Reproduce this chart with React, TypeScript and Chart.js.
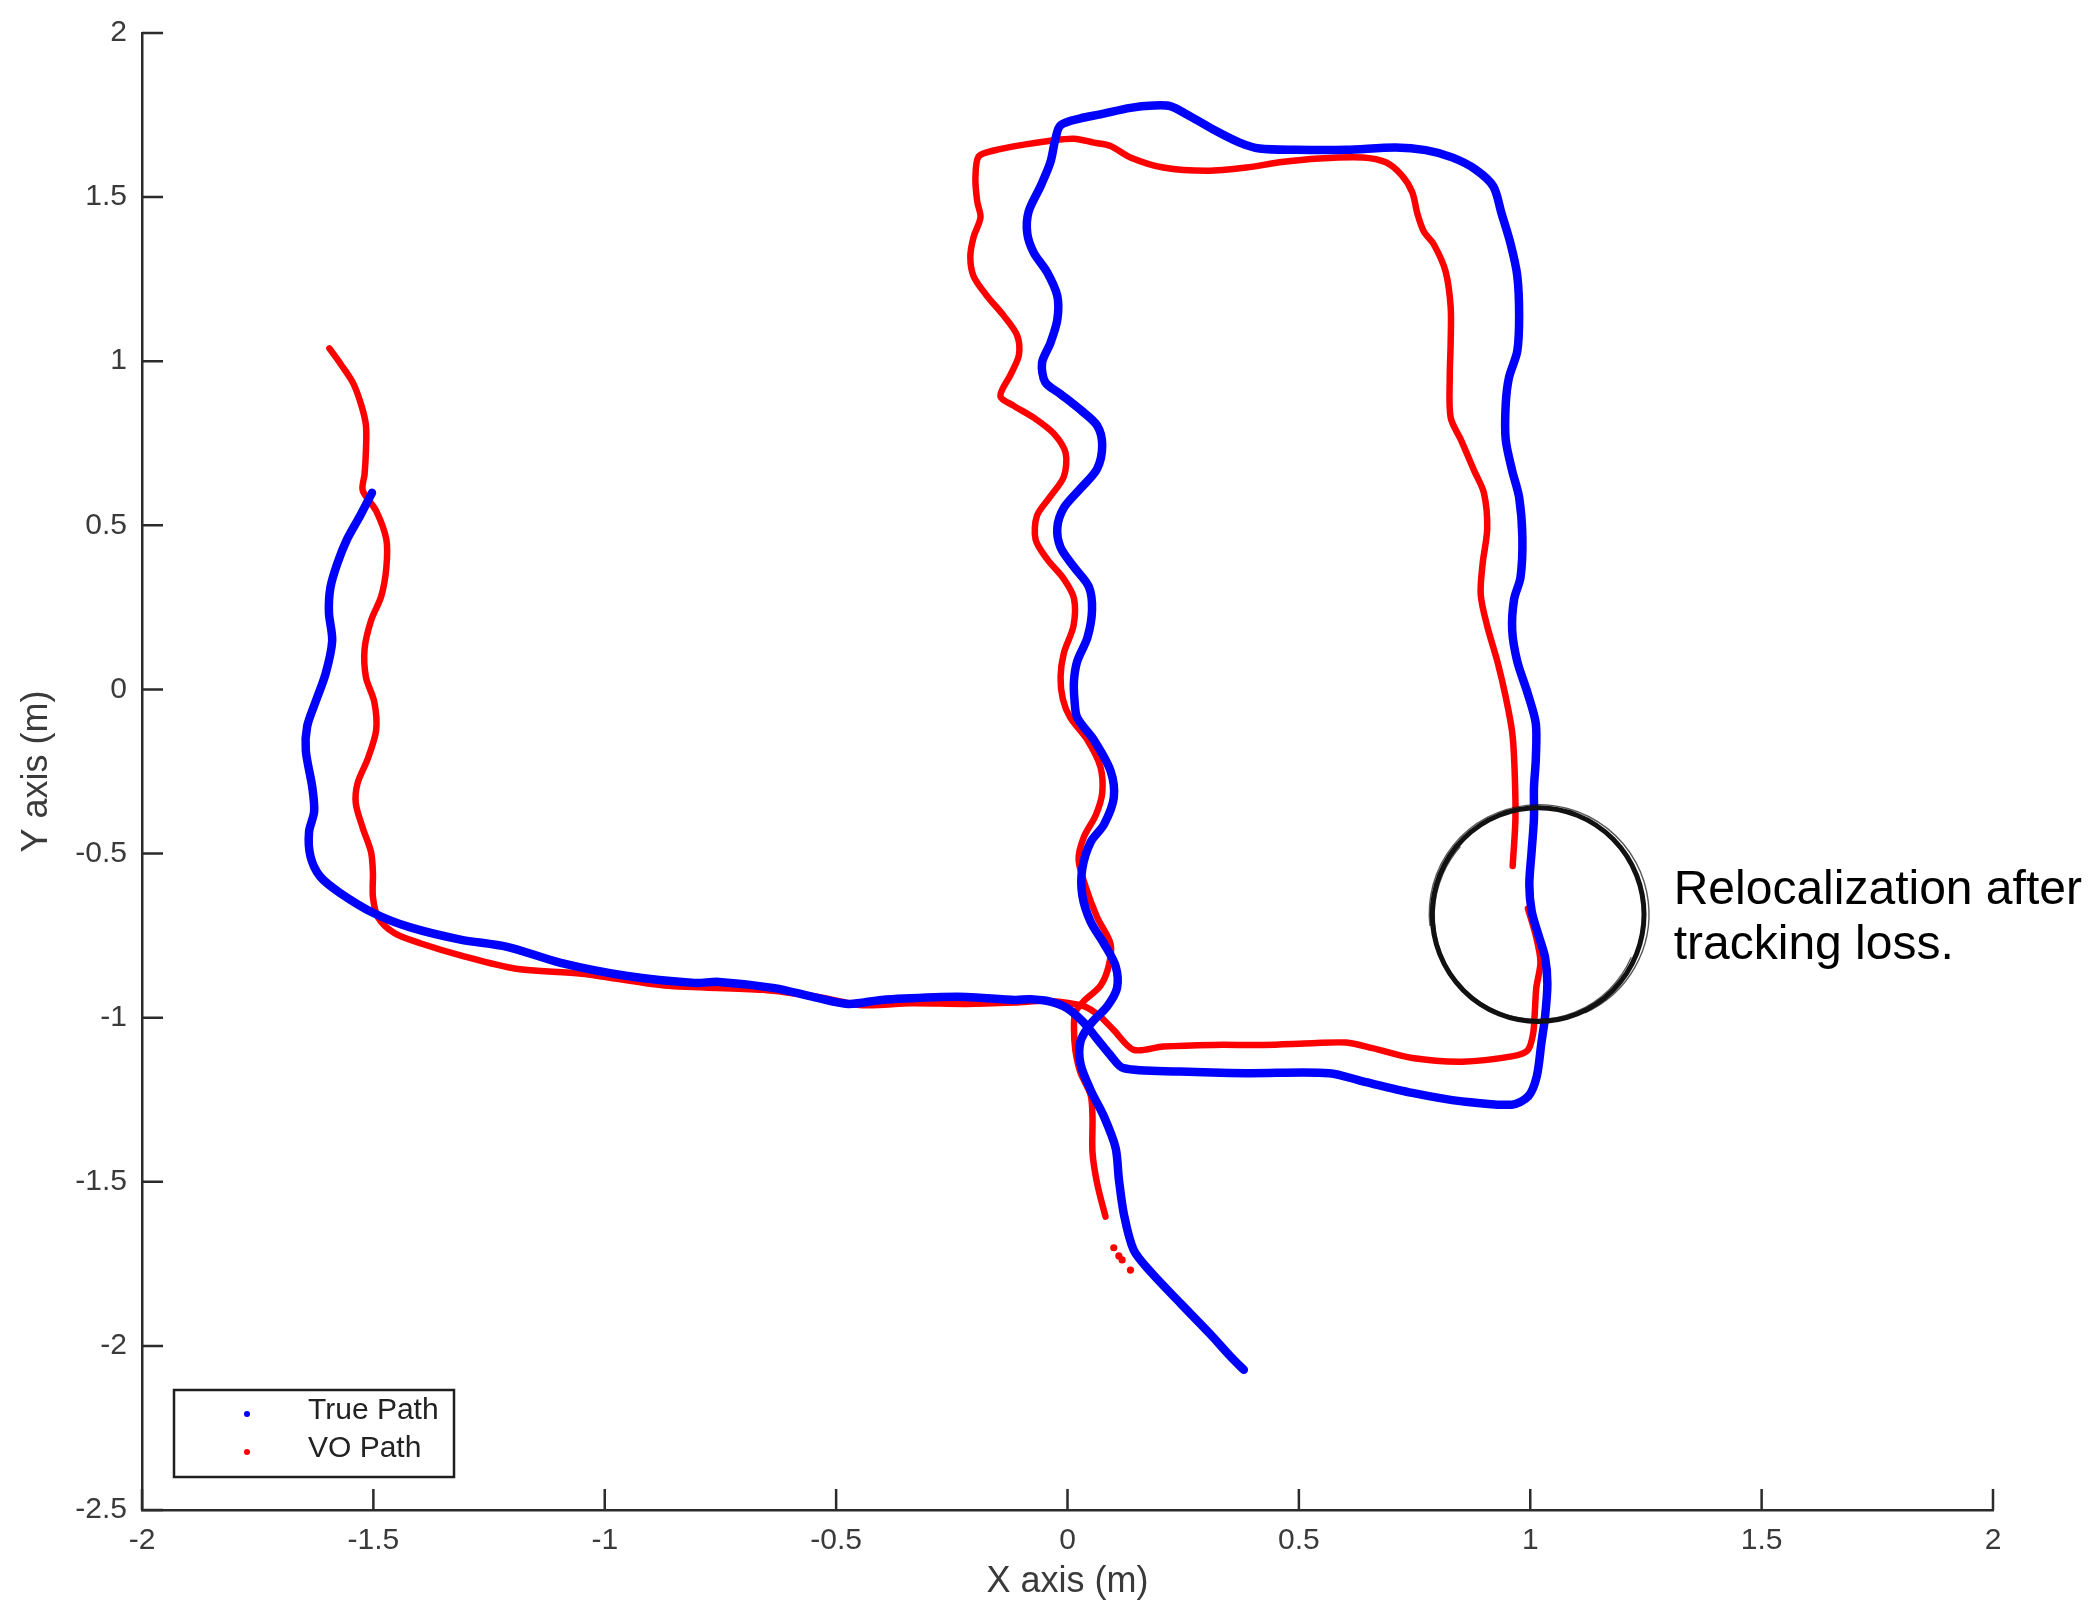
import React, { useEffect, useRef } from "react";
import { Chart, registerables } from "chart.js";

Chart.register(...registerables);

// ---------- data ----------
const X_TICKS = [-2, -1.5, -1, -0.5, 0, 0.5, 1, 1.5, 2];
const Y_TICKS = [-2.5, -2, -1.5, -1, -0.5, 0, 0.5, 1, 1.5, 2];
const X_LABEL = "X axis (m)";
const Y_LABEL = "Y axis (m)";
const SERIES_NAMES = ["True Path", "VO Path"];
const ANNOTATION_LINES = ["Relocalization after", "tracking loss."];

// True path (ground truth), from the end of the tail up through the loop and out to the left
const TRUE_PATH: [number, number][] = [
  [0.381, -2.073], [0.352, -2.032], [0.309, -1.965], [0.244, -1.87], [0.18, -1.775],
  [0.143, -1.708], [0.122, -1.6], [0.111, -1.492], [0.104, -1.397], [0.079, -1.302],
  [0.05, -1.221], [0.028, -1.14], [0.028, -1.073], [0.05, -1.019], [0.086, -0.965],
  [0.107, -0.91], [0.104, -0.843], [0.079, -0.775], [0.05, -0.708], [0.032, -0.627],
  [0.032, -0.546], [0.05, -0.465], [0.079, -0.411], [0.1, -0.33], [0.093, -0.248],
  [0.057, -0.154], [0.021, -0.086], [0.015, -0.03], [0.014, 0.026], [0.021, 0.086],
  [0.043, 0.158], [0.053, 0.242], [0.046, 0.313], [0.014, 0.373], [-0.015, 0.433],
  [-0.022, 0.493], [-0.008, 0.553], [0.028, 0.612], [0.064, 0.672], [0.075, 0.744],
  [0.064, 0.804], [0.028, 0.852], [-0.015, 0.9], [-0.048, 0.936], [-0.055, 0.995],
  [-0.037, 1.055], [-0.022, 1.127], [-0.022, 1.199], [-0.044, 1.271], [-0.073, 1.331],
  [-0.087, 1.39], [-0.084, 1.456], [-0.058, 1.534], [-0.037, 1.606], [-0.026, 1.678],
  [-0.015, 1.719], [0.028, 1.74], [0.071, 1.752], [0.136, 1.772], [0.186, 1.779],
  [0.222, 1.777], [0.258, 1.752], [0.315, 1.706], [0.372, 1.666], [0.415, 1.648],
  [0.494, 1.644], [0.602, 1.644], [0.709, 1.651], [0.774, 1.643], [0.831, 1.621],
  [0.881, 1.585], [0.92, 1.533], [0.938, 1.45], [0.958, 1.355], [0.972, 1.26],
  [0.976, 1.139], [0.972, 1.031], [0.954, 0.95], [0.947, 0.869], [0.947, 0.761],
  [0.961, 0.666], [0.976, 0.585], [0.983, 0.463], [0.979, 0.342], [0.965, 0.274],
  [0.961, 0.18], [0.972, 0.085], [0.994, -0.01], [1.012, -0.104], [1.012, -0.212],
  [1.008, -0.3], [1.008, -0.392], [1.003, -0.493], [0.998, -0.594], [1.003, -0.675],
  [1.017, -0.745], [1.032, -0.816], [1.037, -0.897], [1.032, -0.997], [1.024, -1.078],
  [1.014, -1.179], [0.996, -1.239], [0.96, -1.265], [0.853, -1.255], [0.745, -1.229],
  [0.638, -1.194], [0.566, -1.169], [0.387, -1.169], [0.243, -1.164], [0.121, -1.154],
  [0.093, -1.115], [0.064, -1.065], [0.035, -1.015], [-0.001, -0.971], [-0.037, -0.951],
  [-0.08, -0.944], [-0.113, -0.946], [-0.219, -0.937], [-0.286, -0.938], [-0.402, -0.946],
  [-0.474, -0.958], [-0.546, -0.938], [-0.633, -0.91], [-0.753, -0.891], [-0.806, -0.894],
  [-0.951, -0.873], [-1.095, -0.833], [-1.211, -0.784], [-1.312, -0.762], [-1.42, -0.725],
  [-1.5, -0.681], [-1.572, -0.62], [-1.615, -0.57], [-1.636, -0.508], [-1.639, -0.434],
  [-1.628, -0.372], [-1.632, -0.298], [-1.646, -0.186], [-1.643, -0.112], [-1.625, -0.038],
  [-1.603, 0.049], [-1.589, 0.148], [-1.596, 0.234], [-1.593, 0.309], [-1.578, 0.383],
  [-1.557, 0.457], [-1.528, 0.531], [-1.503, 0.599],
];

// VO path, part 1: from the tail up, round the loop, until tracking is lost
const VO_PATH_BEFORE_LOSS: [number, number][] = [
  [0.082, -1.606], [0.064, -1.505], [0.054, -1.41], [0.054, -1.302], [0.05, -1.235],
  [0.028, -1.167], [0.017, -1.099], [0.014, -1.032], [0.017, -0.984], [0.035, -0.95],
  [0.071, -0.903], [0.089, -0.843], [0.093, -0.775], [0.064, -0.694], [0.039, -0.6],
  [0.024, -0.519], [0.035, -0.451], [0.061, -0.383], [0.075, -0.316], [0.071, -0.235],
  [0.043, -0.154], [0.006, -0.086], [-0.01, -0.03], [-0.015, 0.038], [-0.008, 0.11],
  [0.013, 0.194], [0.014, 0.277], [-0.008, 0.337], [-0.044, 0.397], [-0.069, 0.457],
  [-0.066, 0.529], [-0.037, 0.588], [-0.008, 0.648], [-0.004, 0.72], [-0.03, 0.78],
  [-0.073, 0.828], [-0.116, 0.864], [-0.145, 0.894], [-0.123, 0.959], [-0.105, 1.019],
  [-0.109, 1.079], [-0.138, 1.139], [-0.174, 1.199], [-0.203, 1.259], [-0.21, 1.318],
  [-0.203, 1.378], [-0.188, 1.438], [-0.195, 1.486], [-0.199, 1.558], [-0.192, 1.624],
  [-0.159, 1.642], [-0.094, 1.66], [-0.037, 1.672], [0.014, 1.678], [0.057, 1.666],
  [0.093, 1.656], [0.136, 1.621], [0.207, 1.59], [0.301, 1.58], [0.387, 1.59],
  [0.458, 1.606], [0.544, 1.618], [0.638, 1.621], [0.688, 1.606], [0.722, 1.567],
  [0.745, 1.515], [0.756, 1.45], [0.77, 1.395], [0.792, 1.355], [0.817, 1.274],
  [0.828, 1.166], [0.828, 1.058], [0.826, 0.95], [0.828, 0.828], [0.85, 0.761],
  [0.879, 0.666], [0.9, 0.598], [0.907, 0.49], [0.897, 0.382], [0.893, 0.288],
  [0.907, 0.193], [0.929, 0.085], [0.947, -0.023], [0.961, -0.131], [0.966, -0.239],
  [0.968, -0.392], [0.962, -0.538],
];

// VO path, part 2: after relocalization, along the bottom and out to the left
const VO_PATH_AFTER_RELOC: [number, number][] = [
  [0.995, -0.668], [1.012, -0.75], [1.022, -0.83], [1.013, -0.91], [1.01, -0.98],
  [1.006, -1.05], [0.994, -1.1], [0.96, -1.118], [0.853, -1.134], [0.745, -1.123],
  [0.659, -1.093], [0.602, -1.076], [0.53, -1.078], [0.423, -1.083], [0.315, -1.083],
  [0.207, -1.088], [0.143, -1.098], [0.1, -1.038], [0.071, -0.997], [0.035, -0.965],
  [-0.041, -0.949], [-0.113, -0.954], [-0.219, -0.958], [-0.338, -0.956], [-0.444, -0.962],
  [-0.539, -0.937], [-0.658, -0.915], [-0.871, -0.902], [-1.049, -0.866], [-1.192, -0.851],
  [-1.31, -0.811], [-1.397, -0.774], [-1.454, -0.743], [-1.49, -0.694], [-1.501, -0.632],
  [-1.501, -0.558], [-1.505, -0.496], [-1.523, -0.422], [-1.538, -0.347], [-1.534, -0.285],
  [-1.512, -0.211], [-1.494, -0.124], [-1.498, -0.038], [-1.516, 0.037], [-1.519, 0.123],
  [-1.505, 0.21], [-1.483, 0.284], [-1.472, 0.371], [-1.472, 0.457], [-1.494, 0.544],
  [-1.523, 0.606], [-1.519, 0.656], [-1.516, 0.73], [-1.516, 0.804], [-1.526, 0.866],
  [-1.544, 0.934], [-1.57, 0.99], [-1.595, 1.039],
];

// isolated VO samples below the end of the VO tail
const VO_STRAY_POINTS: [number, number][] = [
  [0.1, -1.701], [0.111, -1.726], [0.118, -1.738], [0.136, -1.769],
];

// annotation anchor (data units)
const ANNOT_CENTER = { x: 1.017, y: -0.686 };
const ANNOT_RADIUS_X_UNITS = 0.231;
const ANNOT_TEXT_POS = { x: 1.31, y1: -0.654, y2: -0.821 };

// ---------- styles ----------
const W = 2096;
const H = 1605;
const BLUE = "#0000ff";
const RED = "#ff0000";
const AXIS_COLOR = "#2b2b2b";
const TEXT_COLOR = "#3a3a3a";
const FONT = "'Liberation Sans', Arial, Helvetica, sans-serif";

const toPts = (arr: [number, number][]) => arr.map(([x, y]) => ({ x, y }));

const inwardTicks = {
  id: "inwardTicks",
  afterDraw(chart: any) {
    const { ctx, chartArea, scales } = chart;
    const len = 21;
    ctx.save();
    ctx.strokeStyle = AXIS_COLOR;
    ctx.lineWidth = 2.5;
    ctx.beginPath();
    for (const t of scales.x.ticks) {
      const px = scales.x.getPixelForValue(t.value);
      ctx.moveTo(px, chartArea.bottom);
      ctx.lineTo(px, chartArea.bottom - len);
    }
    for (const t of scales.y.ticks) {
      const py = scales.y.getPixelForValue(t.value);
      ctx.moveTo(chartArea.left, py);
      ctx.lineTo(chartArea.left + len, py);
    }
    ctx.stroke();
    ctx.restore();
  },
};

const boxLegend = {
  id: "boxLegend",
  afterDraw(chart: any) {
    const { ctx, chartArea } = chart;
    const boxW = 280;
    const boxH = 87;
    const left = chartArea.left + 32;
    const top = chartArea.bottom - 33 - boxH;
    ctx.save();
    ctx.fillStyle = "#ffffff";
    ctx.fillRect(left, top, boxW, boxH);
    ctx.strokeStyle = "#1e1e1e";
    ctx.lineWidth = 2.5;
    ctx.strokeRect(left, top, boxW, boxH);
    ctx.font = `30px ${FONT}`;
    ctx.textBaseline = "middle";
    ctx.textAlign = "left";
    for (let i = 0; i < 2; i++) {
      const ds = chart.data.datasets[i];
      const cy = top + 21 + i * 38;
      ctx.fillStyle = ds.borderColor;
      ctx.beginPath();
      ctx.arc(left + 73, cy + 3, 3, 0, Math.PI * 2);
      ctx.fill();
      ctx.fillStyle = "#222222";
      ctx.fillText(ds.label, left + 134, cy);
    }
    ctx.restore();
  },
};

const annotation = {
  id: "annotation",
  afterDraw(chart: any) {
    const { ctx, scales } = chart;
    const cx = scales.x.getPixelForValue(ANNOT_CENTER.x);
    const cy = scales.y.getPixelForValue(ANNOT_CENTER.y);
    const r = scales.x.getPixelForValue(ANNOT_CENTER.x + ANNOT_RADIUS_X_UNITS) - cx;
    ctx.save();
    ctx.strokeStyle = "#111111";
    ctx.lineWidth = 5;
    ctx.beginPath();
    ctx.ellipse(cx, cy, r - 1, r, 0, 0, Math.PI * 2);
    ctx.stroke();
    ctx.lineWidth = 1.4;
    ctx.globalAlpha = 0.7;
    ctx.beginPath();
    ctx.ellipse(cx + 1, cy - 1, r + 3, r + 2, 0.2, Math.PI * 0.9, Math.PI * 2.3);
    ctx.stroke();
    ctx.beginPath();
    ctx.ellipse(cx - 1, cy + 1, r - 4, r - 3, 0.1, Math.PI * 0.1, Math.PI * 1.2);
    ctx.stroke();
    ctx.globalAlpha = 1;
    ctx.fillStyle = "#000000";
    ctx.font = `48px ${FONT}`;
    ctx.textAlign = "left";
    ctx.textBaseline = "alphabetic";
    const tx = scales.x.getPixelForValue(ANNOT_TEXT_POS.x);
    ctx.fillText(ANNOTATION_LINES[0], tx, scales.y.getPixelForValue(ANNOT_TEXT_POS.y1));
    ctx.fillText(ANNOTATION_LINES[1], tx, scales.y.getPixelForValue(ANNOT_TEXT_POS.y2));
    ctx.restore();
  },
};

export default function App() {
  const ref = useRef<HTMLCanvasElement | null>(null);

  useEffect(() => {
    if (!ref.current) return;
    const lineStyle = {
      showLine: true,
      pointRadius: 0,
      pointHoverRadius: 0,
      tension: 0.3,
      borderCapStyle: "round",
      borderJoinStyle: "round",
      fill: false,
    };
    const chart = new Chart(ref.current, {
      type: "scatter",
      data: {
        datasets: [
          {
            ...lineStyle,
            label: SERIES_NAMES[0],
            data: toPts(TRUE_PATH),
            borderColor: BLUE,
            backgroundColor: BLUE,
            borderWidth: 8.5,
            order: 0,
          },
          {
            ...lineStyle,
            label: SERIES_NAMES[1],
            data: toPts(VO_PATH_BEFORE_LOSS),
            borderColor: RED,
            backgroundColor: RED,
            borderWidth: 6.5,
            order: 1,
          },
          {
            ...lineStyle,
            label: SERIES_NAMES[1],
            data: toPts(VO_PATH_AFTER_RELOC),
            borderColor: RED,
            backgroundColor: RED,
            borderWidth: 6.5,
            order: 1,
          },
          {
            label: SERIES_NAMES[1],
            data: toPts(VO_STRAY_POINTS),
            showLine: false,
            pointRadius: 3.6,
            pointBorderWidth: 0,
            borderColor: RED,
            backgroundColor: RED,
            order: 1,
          },
        ],
      } as any,
      options: {
        animation: false,
        responsive: false,
        maintainAspectRatio: false,
        devicePixelRatio: 1,
        events: [],
        layout: { padding: { left: 0, right: 103, top: 23, bottom: 0 } },
        plugins: {
          legend: { display: false },
          tooltip: { enabled: false },
          title: { display: false },
        },
        scales: {
          x: {
            type: "linear",
            min: -2,
            max: 2,
            afterBuildTicks: (s: any) => {
              s.ticks = X_TICKS.map((v) => ({ value: v }));
            },
            afterFit: (s: any) => {
              s.height = 95;
            },
            grid: { display: false, drawTicks: false },
            border: { display: true, color: AXIS_COLOR, width: 2.5 },
            ticks: {
              autoSkip: false,
              maxRotation: 0,
              padding: 13,
              color: TEXT_COLOR,
              font: { family: FONT, size: 30 },
              callback: (v: any) => String(v),
            },
            title: {
              display: true,
              text: X_LABEL,
              color: TEXT_COLOR,
              font: { family: FONT, size: 36 },
              padding: { top: 0, bottom: 1 },
            },
          },
          y: {
            type: "linear",
            min: -2.5,
            max: 2,
            afterBuildTicks: (s: any) => {
              s.ticks = Y_TICKS.map((v) => ({ value: v }));
            },
            afterFit: (s: any) => {
              s.width = 142;
            },
            grid: { display: false, drawTicks: false },
            border: { display: true, color: AXIS_COLOR, width: 2.5 },
            ticks: {
              autoSkip: false,
              padding: 15,
              color: TEXT_COLOR,
              font: { family: FONT, size: 30 },
              callback: (v: any) => String(v),
            },
            title: {
              display: true,
              text: Y_LABEL,
              color: TEXT_COLOR,
              font: { family: FONT, size: 36 },
              padding: { top: 15, bottom: 0 },
            },
          },
        },
      } as any,
      plugins: [inwardTicks, boxLegend, annotation],
    });
    return () => chart.destroy();
  }, []);

  return (
    <div
      style={{
        position: "absolute",
        left: 0,
        top: 0,
        width: W,
        height: H,
        background: "#ffffff",
      }}
    >
      <canvas ref={ref} width={W} height={H} style={{ width: W, height: H, display: "block" }} />
    </div>
  );
}
